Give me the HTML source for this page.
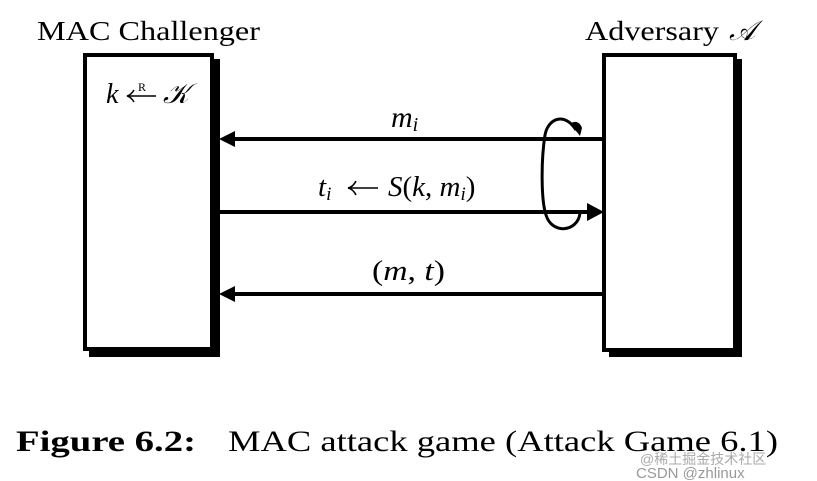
<!DOCTYPE html>
<html><head><meta charset="utf-8"><style>
html,body{margin:0;padding:0;background:#fff;}
svg{display:block;}
text{font-family:"Liberation Serif",serif;fill:#000;}
text.w{font-family:"Liberation Sans",sans-serif;fill:#aaa;}
</style></head><body>
<svg width="817" height="481" viewBox="0 0 817 481" xmlns="http://www.w3.org/2000/svg">
<text x="37" y="40" font-size="27" textLength="223" lengthAdjust="spacingAndGlyphs">MAC Challenger</text>
<text x="585" y="40" font-size="27" textLength="134" lengthAdjust="spacingAndGlyphs">Adversary</text>
<text x="729" y="40" font-size="28" font-style="italic">𝒜</text>
<rect x="89" y="59" width="131" height="298" fill="#000"/>
<rect x="85" y="55" width="127" height="294" fill="#fff" stroke="#000" stroke-width="4"/>
<rect x="609" y="59" width="133" height="298" fill="#000"/>
<rect x="604" y="55" width="131" height="295" fill="#fff" stroke="#000" stroke-width="4"/>
<text x="106" y="103" font-size="28" font-style="italic">k</text>
<line x1="128" y1="96" x2="156" y2="96" stroke="#000" stroke-width="1.5"/>
<path d="M134,90 Q131,95 127,96 Q131,97 134,102" fill="none" stroke="#000" stroke-width="1.5"/>
<text x="138" y="91" font-size="12">R</text>
<text x="163" y="103" font-size="28" font-style="italic">𝒦</text>
<line x1="234" y1="139" x2="603" y2="139" stroke="#000" stroke-width="4"/>
<polygon points="219,139 235,131 235,147" fill="#000"/>
<text x="391" y="127" font-size="30" font-style="italic">m<tspan font-size="20" dy="4">i</tspan></text>
<line x1="220" y1="212" x2="588" y2="212" stroke="#000" stroke-width="4"/>
<polygon points="604,212 587,203 587,221" fill="#000"/>
<text x="318" y="196" font-size="29" font-style="italic">t<tspan font-size="19" dy="4">i</tspan></text>
<line x1="349" y1="188" x2="378" y2="188" stroke="#000" stroke-width="1.6"/>
<path d="M356,181 Q353,187 348,188 Q353,189 356,195" fill="none" stroke="#000" stroke-width="1.6"/>
<text x="388" y="196" font-size="29"><tspan font-style="italic">S</tspan>(<tspan font-style="italic">k</tspan>, <tspan font-style="italic">m</tspan><tspan font-size="19" font-style="italic" dy="4">i</tspan><tspan dy="-4">)</tspan></text>
<line x1="234" y1="294" x2="603" y2="294" stroke="#000" stroke-width="4"/>
<polygon points="219,294 235,286 235,302" fill="#000"/>
<text x="372" y="280" font-size="29" textLength="73" lengthAdjust="spacingAndGlyphs">(<tspan font-style="italic">m</tspan>, <tspan font-style="italic">t</tspan>)</text>
<path d="M576,130 C565,112 548,118 545,135 C541,160 541,200 546,215 C552,235 578,232 580,213" fill="none" stroke="#000" stroke-width="3"/>
<path d="M570,124 C575,120 580,122 582,128 L580,136 C576,130 572,128 570,124 Z" fill="#000"/>
<text x="16" y="451" font-size="30" font-weight="bold" textLength="180" lengthAdjust="spacingAndGlyphs">Figure 6.2:</text>
<text x="228" y="451" font-size="30" textLength="550" lengthAdjust="spacingAndGlyphs">MAC attack game (Attack Game 6.1)</text>
<text class="w" x="640" y="464" font-size="14">@稀土掘金技术社区</text>
<text class="w" x="636" y="478" font-size="15" style="fill:#999">CSDN @zhlinux</text>
</svg>
</body></html>
